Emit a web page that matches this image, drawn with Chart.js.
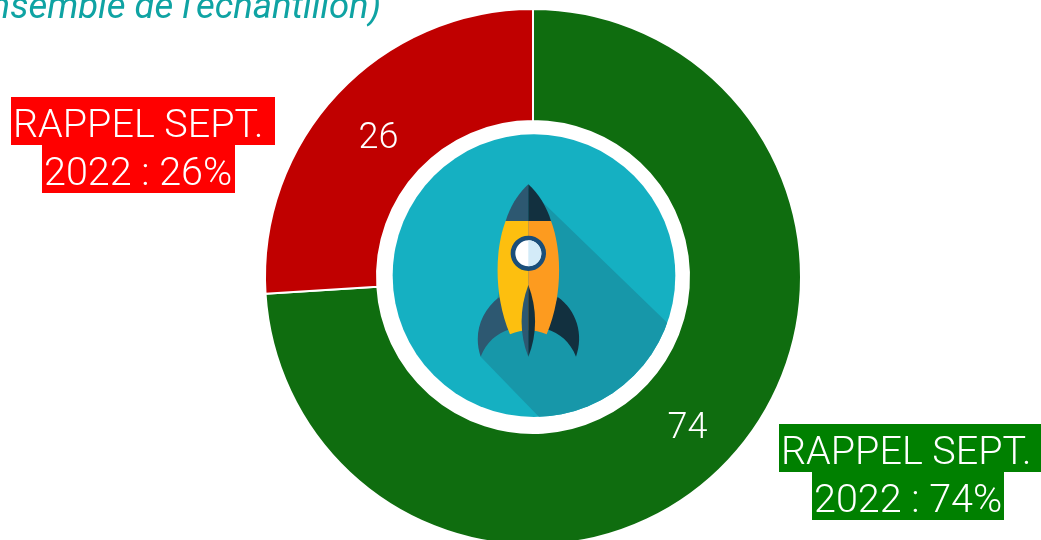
<!DOCTYPE html>
<html lang="fr">
<head>
<meta charset="utf-8">
<title>Rappel sept. 2022</title>
<script src="https://cdn.jsdelivr.net/npm/chart.js@4"></script>
<style>
    html, body { margin: 0; width: 1041px; height: 540px; overflow: hidden; background: #fff; }
    body { position: relative; font-family: Roboto, sans-serif; font-weight: 300; }
    #graficoRappel { position: absolute; left: 0; top: 0; }
    #fusee { position: absolute; left: 0; top: 0; }
    #sousTitre { position: absolute; right: 660px; top: -16px; white-space: nowrap; font-size: 36.5px; font-weight: 400; font-style: italic; color: #0fa3a3; }
    .etiquette { position: absolute; color: #fff; font-size: 39.5px; }
    .etiquette span { display: block; box-sizing: border-box; height: 48px; line-height: 54px; padding-left: 2px; white-space: pre; }
    #etiquetteRouge { left: 11px; top: 97px; }
    #etiquetteRouge span { background: #ff0000; }
    #etiquetteVerte { left: 779px; top: 424px; }
    #etiquetteVerte span { background: #008000; }
</style>
</head>
<body>
<canvas id="graficoRappel" width="1066" height="558"></canvas>
<div id="sousTitre">(sur l'ensemble de l'échantillon)</div>

<svg id="fusee" width="1041" height="540" viewBox="0 0 1041 540">
    <defs>
        <clipPath id="clipDisque"><circle cx="462" cy="452" r="424"></circle></clipPath>
    </defs>
    <g transform="translate(380 125) scale(0.33333)">
        <circle cx="462" cy="452" r="424" fill="#15b0c2"></circle>
        <polygon clip-path="url(#clipDisque)" fill="#1797a9" points="445,190 900,630 900,920 520,920 302,695"></polygon>
        <path fill="#2d5871" d="M358,516 C300,560 280,630 302,695 C320,650 350,625 392,612 Z"></path>
        <path fill="#12303f" d="M533,516 C590,555 612,630 588,695 C570,650 540,625 498,612 Z"></path>
        <path fill="#fdbf0f" d="M377,288 C345,370 340,510 390,628 Q420,616 445,616 L445,288 Z"></path>
        <path fill="#fd9b1f" d="M513,288 C545,370 550,510 500,628 Q470,616 445,616 L445,288 Z"></path>
        <path fill="#2d5871" d="M445,178 C415,205 390,245 377,288 L445,288 Z"></path>
        <path fill="#12303f" d="M445,178 C475,205 500,245 513,288 L445,288 Z"></path>
        <path fill="#2d5871" d="M445,480 C418,550 418,630 445,695 Z"></path>
        <path fill="#12303f" d="M445,480 C472,550 472,630 445,695 Z"></path>
        <circle cx="445" cy="385" r="46" fill="#ffffff" stroke="#1a4e7a" stroke-width="14"></circle>
        <path fill="#d3ebf8" d="M445,346 A39,39 0 0 1 445,424 Z"></path>
    </g>
</svg>

<div id="etiquetteRouge" class="etiquette"></div>
<div id="etiquetteVerte" class="etiquette"></div>

<script>
var categories = ['Rappel sept. 2022 oui', 'Rappel sept. 2022 non'];
var valeurs = [74, 26];
var couleurs = ['#0f6d0f', '#c00000'];
var lignesRouge = ['RAPPEL SEPT. ', '2022 : 26%'];
var lignesVerte = ['RAPPEL SEPT. ', '2022 : 74%'];

function remplirEtiquette(id, lignes, largeurs, decalages) {
    var bloc = document.getElementById(id);
    lignes.forEach(function (texte, i) {
        var ligne = document.createElement('span');
        ligne.textContent = texte;
        ligne.style.width = largeurs[i] + 'px';
        ligne.style.marginLeft = decalages[i] + 'px';
        bloc.appendChild(ligne);
    });
}

remplirEtiquette('etiquetteRouge', lignesRouge, [264, 193], [0, 31]);
remplirEtiquette('etiquetteVerte', lignesVerte, [262, 192], [0, 33]);

// valeur au centre de chaque arc
var pluginValeurs = {
    id: 'valeurs',
    afterDatasetsDraw: function (chart) {
        var ctx = chart.ctx;
        ctx.save();
        ctx.fillStyle = '#fff';
        ctx.font = '300 36px Roboto';
        ctx.textAlign = 'center';
        ctx.textBaseline = 'middle';
        chart.getDatasetMeta(0).data.forEach(function (arc, i) {
            var centre = arc.getCenterPoint();
            ctx.fillText(String(valeurs[i]), centre.x, centre.y + 7);
        });
        ctx.restore();
    }
};

new Chart(document.getElementById('graficoRappel').getContext('2d'), {
    type: 'doughnut',
    data: {
        labels: categories,
        datasets: [{
            data: valeurs,
            backgroundColor: couleurs,
            borderColor: '#fff',
            borderWidth: 2,
            hoverBorderWidth: 2
        }]
    },
    options: {
        responsive: false,
        animation: false,
        cutout: 156,
        layout: { padding: { top: 8, bottom: 12, left: 0, right: 0 } },
        plugins: {
            legend: { display: false },
            tooltip: { enabled: false }
        }
    },
    plugins: [pluginValeurs]
});
</script>
</body>
</html>
